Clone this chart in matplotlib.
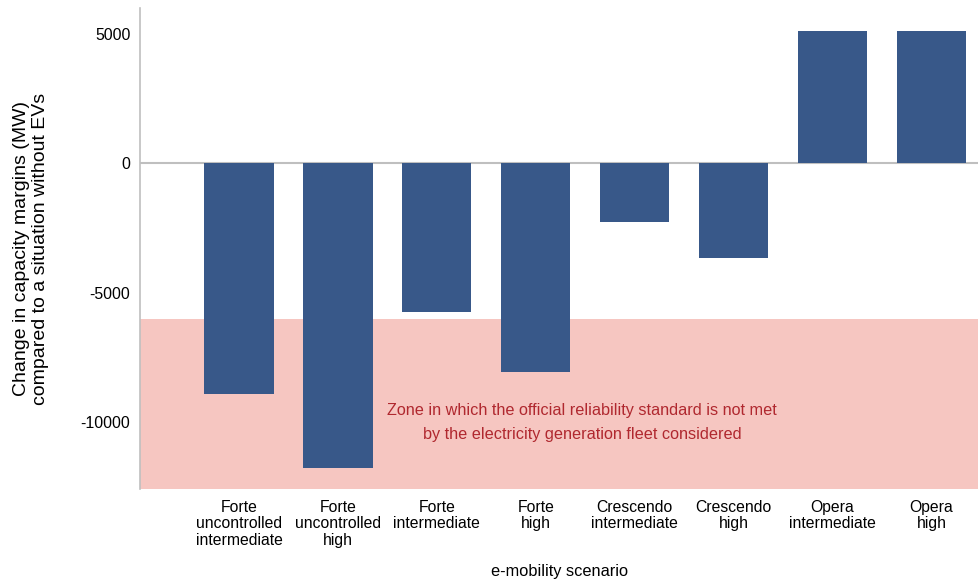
import matplotlib
matplotlib.use("Agg")
import matplotlib.pyplot as plt

scenarios = ["Forte\nuncontrolled\nintermediate", "Forte\nuncontrolled\nhigh",
             "Forte\nintermediate", "Forte\nhigh", "Crescendo\nintermediate",
             "Crescendo\nhigh", "Opera\nintermediate", "Opera\nhigh"]
change_mw = [-8900, -11750, -5750, -8050, -2250, -3650, 5100, 5100]
yticks = [5000, 0, -5000, -10000]
threshold = -6000
zone_text = ("Zone in which the official reliability standard is not met\n"
             "by the electricity generation fleet considered")

plt.rcParams["font.family"] = ["Liberation Sans", "DejaVu Sans"]

fig = plt.figure(figsize=(9.79, 5.79), dpi=100)
W, H = 979, 579
ax = fig.add_axes([140 / W, 1 - 489 / H, (W - 140) / W, (489 - 8) / H])

x = list(range(len(scenarios)))
ymin, ymax = -12570, 6000
ax.axhspan(ymin, threshold, color="#f6c6c1", zorder=0, lw=0)
ax.bar(x, change_mw, width=0.7, color="#385889", zorder=2)
ax.axhline(0, color="#bfbfbf", lw=1.5, zorder=1)

ax.set_xlim(-1, 7.48)
ax.set_ylim(ymin, ymax)
ax.set_yticks(yticks)
ax.set_yticklabels([str(v) for v in yticks], fontsize=11.4)
ax.set_xticks(x)
ax.set_xticklabels(scenarios, fontsize=11.3, linespacing=1.1)
ax.tick_params(axis="both", length=0)
ax.tick_params(axis="y", pad=7)
ax.tick_params(axis="x", pad=8)

for s in ["top", "right", "bottom"]:
    ax.spines[s].set_visible(False)
ax.spines["left"].set_color("#bfbfbf")
ax.spines["left"].set_linewidth(1.2)

ax.set_xlabel("e-mobility scenario", fontsize=11.8, labelpad=12)
ax.set_ylabel("Change in capacity margins (MW)\ncompared to a situation without EVs",
              fontsize=14, linespacing=1.2)
ax.yaxis.set_label_coords(-0.108, 0.5)

ax.text(3.47, -10000, zone_text, ha="center", va="center", fontsize=11.7,
        color="#b0282f", linespacing=1.8, zorder=3)

fig.savefig("out.png", dpi=100)
